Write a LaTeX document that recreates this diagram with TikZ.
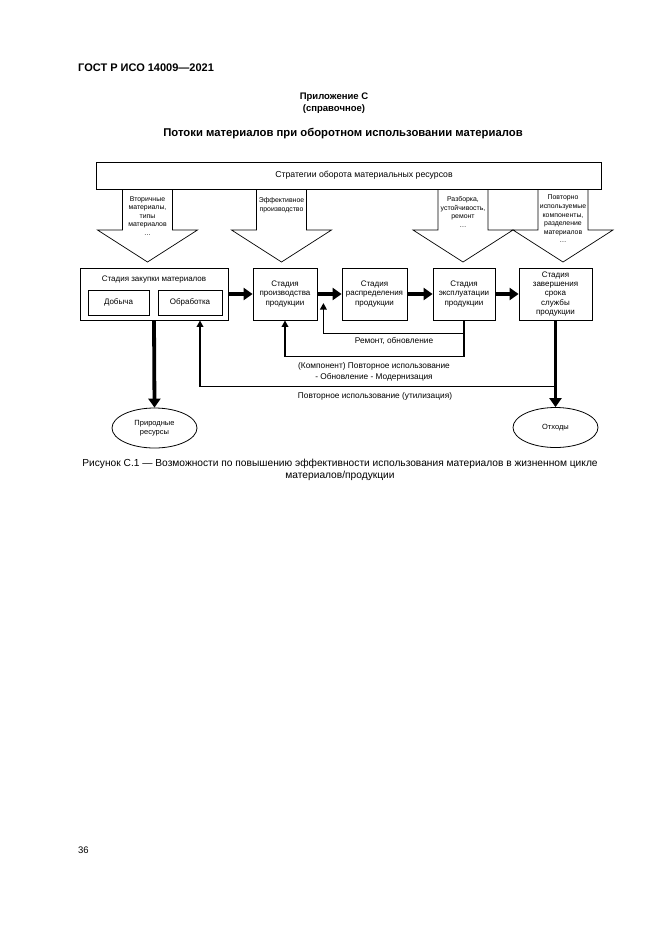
\documentclass[tikz,border=0pt]{standalone}
\usepackage{fontspec}
\setmainfont{Liberation Sans}
\usetikzlibrary{arrows.meta,shapes.geometric}
\newcommand{\fsz}[2]{\fontsize{#1}{#2}\selectfont}
\newcommand{\blockarrow}[1]{%
  \draw[line width=0.7pt] (#1-25,189) -- (#1-25,230) -- (#1-50,230) -- (#1,262) -- (#1+50,230) -- (#1+25,230) -- (#1+25,189);}
\tikzset{
  box/.style={draw, line width=0.8pt, align=center, font=\fsz{8}{9.6}, inner sep=0pt},
  inbox/.style={draw, line width=0.8pt, align=center, font=\fsz{8}{9.6}, inner sep=0pt, minimum height=25pt},
  oval/.style={draw, ellipse, line width=0.8pt, align=center, font=\fsz{7.5}{9}, inner sep=0pt, minimum width=85pt, minimum height=40pt},
  atext/.style={align=center, font=\fsz{6.9}{8.6}, inner sep=0pt},
  lbl/.style={align=center, font=\fsz{8.3}{10.5}, inner sep=0pt},
  thk/.style={line width=3.8pt, -{Triangle[length=9pt,width=12pt]}},
  ret/.style={line width=1.8pt, -{Triangle[length=6.5pt,width=6.5pt]}},
  head/.style={font=\bfseries\fsz{11.3}{13}, align=center, inner sep=0pt}
}
\begin{document}
\begin{tikzpicture}[x=1pt,y=-1pt]
\fill[white] (0,0) rectangle (661,935);
\useasboundingbox (0,0) rectangle (661,935);

% header texts
\node[head, anchor=west, font=\bfseries\fsz{11}{13}] (gost) at (78,68) {ГОСТ Р ИСО 14009—2021};
\node[head, font=\bfseries\fsz{9.5}{12}] (app) at (334,103) {Приложение С\\(справочное)};
\node[head] (title) at (343,134) {Потоки материалов при оборотном использовании материалов};

% strategy box
\node[box, minimum width=505pt, minimum height=27pt] (strat) at (349,175.5) {};
\node[font=\fsz{8.7}{10}, inner sep=0pt] (strattxt) at (364,175.5) {Стратегии оборота материальных ресурсов};

% block arrows
\blockarrow{147.5}
\blockarrow{281.5}
\blockarrow{463}
\blockarrow{563}
\node[atext] (a1) at (147.5,216) {Вторичные\\материалы,\\типы\\материалов\\…};
\node[atext] (a2) at (281.5,205) {Эффективное\\производство};
\node[atext] (a3) at (463,212) {Разборка,\\устойчивость,\\ремонт\\…};
\node[atext] (a4) at (563,219) {Повторно\\используемые\\компоненты,\\разделение\\материалов\\…};

% stage boxes
\node[box, minimum width=148pt, minimum height=52pt] (purch) at (154,294) {};
\node[font=\fsz{8}{9.6}, inner sep=0pt] (purchtxt) at (154,280) {Стадия закупки материалов};
\node[inbox, minimum width=61pt] (dob) at (118.5,302.5) {Добыча};
\node[inbox, minimum width=64pt] (obr) at (190,302.5) {Обработка};
\node[box, minimum width=64pt, minimum height=52pt] (prod) at (285,294) {Стадия\\производства\\продукции};
\node[box, minimum width=65pt, minimum height=52pt] (dist) at (374.5,294) {Стадия\\распределения\\продукции};
\node[box, minimum width=62pt, minimum height=52pt] (op) at (464,294) {Стадия\\эксплуатации\\продукции};
\node[box, minimum width=73pt, minimum height=52pt, font=\fsz{8}{9.4}] (eol) at (555.5,294) {Стадия\\завершения\\срока\\службы\\продукции};

% ellipses
\node[oval] (nat) at (154.5,428) {Природные\\ресурсы};
\node[oval] (wst) at (555.5,427.5) {Отходы};

% forward arrows
\draw[thk] (purch.east) -- (prod.west);
\draw[thk] (prod.east) -- (dist.west);
\draw[thk] (dist.east) -- (op.west);
\draw[thk] (op.east) -- (eol.west);
\draw[thk] (purch.south) -- (nat.north);
\draw[thk] (eol.south) -- (wst.north);

% return loops
\coordinate (rp) at ([xshift=6pt,yshift=-9pt]prod.east);
\draw[ret] ([yshift=-13pt]op.south) -| (rp);
\draw[ret] (op.south) -- ++(0,36) -| (prod.south);
\coordinate (rc) at ([yshift=-66pt]eol.south);
\draw[ret] (rc) -| ([xshift=46pt]purch.south);

% labels
\node[lbl] (l1) at (394,341) {Ремонт, обновление};
\node[lbl] (l2) at (374,372) {(Компонент) Повторное использование\\- Обновление - Модернизация};
\node[lbl] (l3) at (375,396) {Повторное использование (утилизация)};

% caption
\node[align=center, font=\fsz{10.2}{12.5}, inner sep=0pt] (cap) at (340,470) {Рисунок С.1 — Возможности по повышению эффективности использования материалов в жизненном цикле\\материалов/продукции};

\node[anchor=west, font=\fsz{9.5}{11}, inner sep=0pt] (page) at (78,850) {36};
\end{tikzpicture}
\end{document}
